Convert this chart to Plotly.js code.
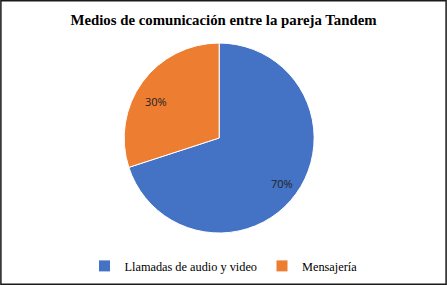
<!DOCTYPE html>
<html><head><meta charset="utf-8">
<script src="https://cdn.plot.ly/plotly-3.0.1.min.js"></script>
<style>html,body{margin:0;padding:0;background:#fff}#c{width:447px;height:285px}</style>
</head><body><div id="c"></div>
<script>
const categories = ["Llamadas de audio y video", "Mensajería"];
const values = [70, 30];
const colors = ["#4472C4", "#ED7D31"];

const W = 447, H = 285;
const dom = {x: [0.2775, 0.703], y: [0.1825, 0.849]};
const trace = {
  type: "pie",
  labels: categories,
  values: values,
  sort: false,
  direction: "clockwise",
  rotation: 0,
  marker: {colors: colors, line: {color: "#ffffff", width: 1}},
  textinfo: "none",
  hoverinfo: "none",
  domain: dom
};

// percent labels placed along each slice's mid-angle (derived from the values)
const total = values.reduce((a, b) => a + b, 0);
const cx = (dom.x[0] + dom.x[1]) / 2, cy = (dom.y[0] + dom.y[1]) / 2;
const R = (dom.y[1] - dom.y[0]) * H / 2;
const labelR = 0.82 * R;
let cum = 0;
const annotations = values.map(v => {
  const mid = (cum + v / 2) / total * 2 * Math.PI;
  cum += v;
  return {
    xref: "paper", yref: "paper", showarrow: false,
    x: cx + Math.sin(mid) * labelR / W,
    y: cy + Math.cos(mid) * labelR / H,
    text: Math.round(v / total * 100) + "%",
    font: {family: "Open Sans, sans-serif", size: 11, color: "#222"}
  };
});

const layout = {
  width: W, height: H,
  margin: {l: 0, r: 0, t: 0, b: 0},
  paper_bgcolor: "#fff",
  title: {text: "<b>Medios de comunicación entre la pareja Tandem</b>",
    font: {family: "Liberation Serif, serif", size: 14.8, color: "#000"},
    x: 0.5, xanchor: "center", y: 0.93, yanchor: "middle"},
  showlegend: true,
  legend: {orientation: "h", x: 0.5, xanchor: "center", y: 0.067, yanchor: "middle",
    font: {family: "Liberation Serif, serif", size: 12.3, color: "#000"},
    traceorder: "normal", itemwidth: 30},
  annotations: annotations,
  shapes: [{type: "rect", xref: "paper", yref: "paper", x0: 0.002, x1: 0.998, y0: 0.003, y1: 0.997,
    line: {color: "#1a1a1a", width: 1.5}}]
};

Plotly.newPlot("c", [trace], layout, {displayModeBar: false, staticPlot: true});
</script></body></html>
